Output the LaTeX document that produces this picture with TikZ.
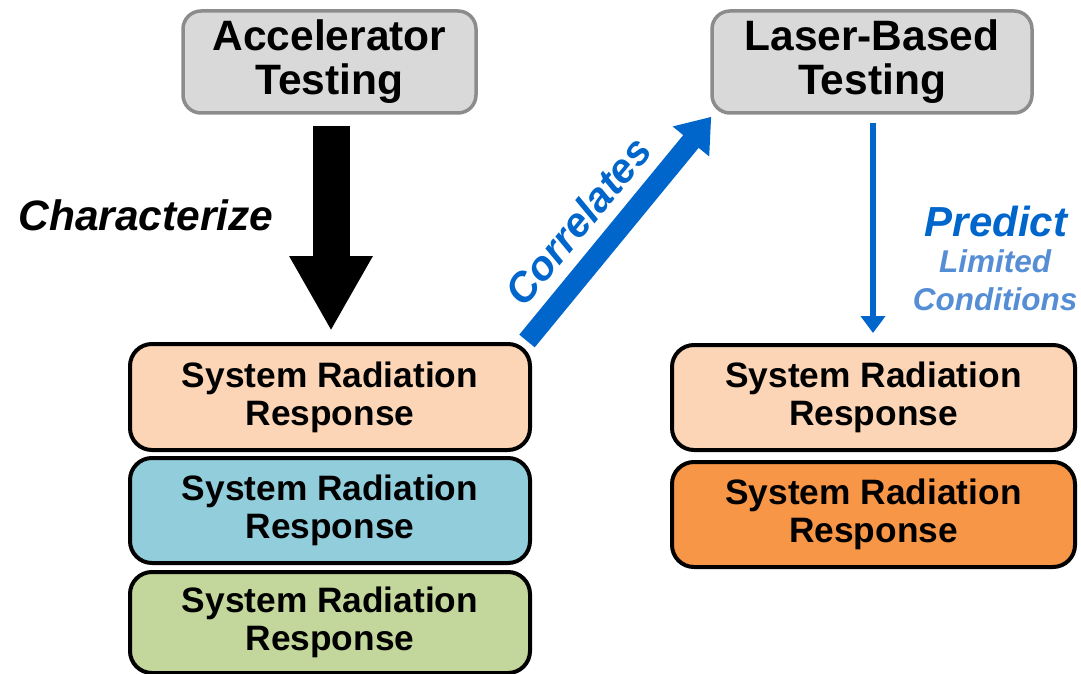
\documentclass[tikz,border=0pt]{standalone}
\usepackage{fontspec}
\setmainfont{Liberation Sans}
\usetikzlibrary{arrows.meta}
\definecolor{boxgray}{HTML}{D9D9D9}
\definecolor{bordgray}{HTML}{8C8C8C}
\definecolor{peach}{HTML}{FBD5B5}
\definecolor{skyb}{HTML}{92CDDC}
\definecolor{olivegreen}{HTML}{C3D69B}
\definecolor{orangebox}{HTML}{F79646}
\definecolor{bluemain}{HTML}{0066CC}
\definecolor{bluelight}{HTML}{558ED5}
\begin{document}
\begin{tikzpicture}[x=1pt,y=-1pt,
  topbox/.style={draw=bordgray, line width=3.5pt, fill=boxgray, rounded corners=18pt,
    minimum height=102pt, align=center, inner sep=0pt,
    font=\fontsize{42.5}{44}\selectfont\bfseries},
  srbox/.style={draw=black, line width=4pt, rounded corners=22pt,
    minimum width=400pt, align=center, inner sep=0pt,
    font=\fontsize{35.3}{38}\selectfont\bfseries},
  lbl/.style={inner sep=0pt, align=center}]
\useasboundingbox (0,0) rectangle (1081,674);

\node[topbox, minimum width=293pt] (acc) at (329.5,62) {Accelerator\\Testing};
\node[topbox, minimum width=320pt] (laser) at (872,62) {Laser-Based\\Testing};

\node[srbox, fill=peach, minimum height=106pt] (l1) at (330,397) {System Radiation\\Response};
\node[srbox, fill=skyb, minimum height=105pt] (l2) at (330,510.5) {System Radiation\\Response};
\node[srbox, fill=olivegreen, minimum height=101pt] (l3) at (330,622.5) {System Radiation\\Response};

\node[srbox, fill=peach, minimum width=403pt, minimum height=105pt] (r1) at (873.5,397.5) {System Radiation\\Response};
\node[srbox, fill=orangebox, minimum width=403pt, minimum height=105pt] (r2) at (873.5,514.5) {System Radiation\\Response};

% black arrow
\draw[line width=37pt, -{Triangle[length=75pt,width=78pt]}]
  ([xshift=1.5pt,yshift=-11pt]acc.south) -- ([xshift=1pt,yshift=11pt]l1.north);
\node[lbl, font=\fontsize{42.5}{44}\selectfont\bfseries\itshape] (char) at (146,215) {Characterize};

% blue diagonal arrow
\draw[bluemain, line width=20pt, -{Triangle[length=32pt,width=45pt]}]
  ([xshift=-5pt,yshift=1pt]l1.north east) -- ([xshift=1pt,yshift=-2pt]laser.south west);
\node[lbl, bluemain, rotate=50.6, font=\fontsize{41}{44}\selectfont\bfseries\itshape] (corr) at (578,221) {Correlates};

% right blue arrow
\draw[bluemain, line width=6pt, -{Triangle[length=17pt,width=24pt]}]
  ([xshift=1pt,yshift=-8pt]laser.south) -- ([xshift=-0.5pt,yshift=10pt]r1.north);
\node[lbl, bluemain, font=\fontsize{42}{44}\selectfont\bfseries\itshape] (pred) at (996,221) {Predict};
\node[lbl, bluelight, font=\fontsize{31.5}{38}\selectfont\bfseries\itshape] (lim) at (995,280) {Limited\\Conditions};
\end{tikzpicture}
\end{document}
